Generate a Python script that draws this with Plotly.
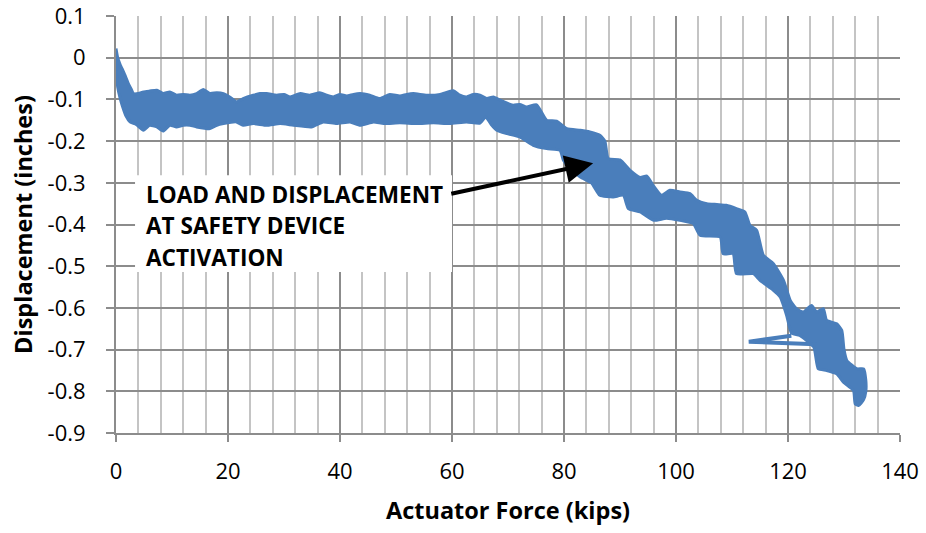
import plotly.graph_objects as go

# ---- data (kips, inches) ----
upper_x = [0, 0.3, 0.7, 1.2, 1.7, 2.2, 2.7, 3.1, 4.0, 4.9, 6.0, 7.3, 8.4, 9.6, 10.8, 12.0, 13.2, 14.4,
           15.6, 16.8, 18.0, 19.2, 20.3, 21.5, 22.7, 24.5, 25.7, 26.9, 28.7, 30.0, 31.1, 32.9, 34.6,
           36.4, 37.6, 38.8, 40.0, 41.2, 42.4, 43.6, 45.3, 47.1, 48.9, 50.7, 51.9, 53.1, 55.5, 57.9,
           60.2, 61.4, 62.6, 63.8, 65.0, 66.2, 67.4, 68.6, 70.9, 72.1, 73.3, 75.1, 76.9, 78.7, 80.5,
           82.9, 84.6, 86.4, 87.3, 87.9, 90.0, 91.8, 93.6, 94.8, 95.9, 97.4, 98.9, 100.7, 102.5,
           103.7, 105.5, 107.3, 109.0, 110.8, 112.3, 113.2, 114.4, 115.6, 117.4, 119.2, 120.4,
           121.5, 122.7, 124.2, 125.1, 126.3, 126.9, 128.7, 129.6, 130.0, 130.5, 132.3, 133.5, 133.9]
upper_y = [0.022, 0.0, -0.015, -0.03, -0.045, -0.062, -0.075, -0.086, -0.086, -0.082, -0.08, -0.078,
           -0.086, -0.082, -0.09, -0.088, -0.09, -0.086, -0.076, -0.086, -0.084, -0.086, -0.094, -0.106,
           -0.098, -0.09, -0.086, -0.086, -0.09, -0.088, -0.094, -0.086, -0.09, -0.084, -0.09, -0.094,
           -0.088, -0.092, -0.088, -0.086, -0.09, -0.098, -0.088, -0.092, -0.088, -0.086, -0.09, -0.088,
           -0.079, -0.09, -0.094, -0.088, -0.09, -0.098, -0.094, -0.102, -0.114, -0.112, -0.118, -0.113,
           -0.15, -0.152, -0.17, -0.174, -0.178, -0.186, -0.2, -0.242, -0.245, -0.27, -0.287, -0.284,
           -0.306, -0.33, -0.318, -0.322, -0.326, -0.342, -0.35, -0.352, -0.354, -0.362, -0.37, -0.402,
           -0.414, -0.474, -0.494, -0.534, -0.582, -0.602, -0.61, -0.594, -0.61, -0.602, -0.63, -0.638,
           -0.654, -0.70, -0.726, -0.746, -0.746, -0.774]

lower_x = [0, 0.3, 0.7, 1.2, 1.8, 2.5, 3.6, 4.9, 6.0, 7.3, 8.4, 9.6, 10.8, 12.0, 13.2, 14.4, 16.8,
           18.0, 19.2, 21.5, 22.7, 24.5, 26.9, 29.3, 31.7, 34.9, 37.0, 39.4, 41.8, 43.6, 46.0, 47.8,
           50.7, 53.7, 56.7, 59.6, 62.6, 65.0, 66.0, 67.0, 68.0, 69.8, 72.1, 74.5, 76.9, 79.3, 79.9,
           81.1, 82.9, 84.9, 86.4, 88.8, 90.6, 91.5, 93.6, 96.0, 98.3, 100.7, 103.1, 104.3, 107.9,
           108.4, 110.2, 110.8, 113.8, 115.0, 117.4, 118.6, 119.8, 120.6, 122.1, 124.6, 125.4, 126.9,
           128.7, 129.9, 131.7, 132.0, 132.6, 133.5, 133.9]
lower_y = [-0.03, -0.07, -0.095, -0.118, -0.14, -0.154, -0.16, -0.174, -0.162, -0.166, -0.176, -0.162,
           -0.166, -0.162, -0.162, -0.166, -0.17, -0.162, -0.158, -0.154, -0.162, -0.158, -0.162,
           -0.158, -0.162, -0.166, -0.154, -0.158, -0.154, -0.162, -0.154, -0.158, -0.156, -0.158,
           -0.156, -0.158, -0.154, -0.157, -0.142, -0.16, -0.174, -0.182, -0.19, -0.21, -0.218, -0.222,
           -0.246, -0.265, -0.286, -0.30, -0.33, -0.334, -0.33, -0.362, -0.37, -0.39, -0.385, -0.39,
           -0.398, -0.426, -0.43, -0.47, -0.47, -0.518, -0.518, -0.534, -0.558, -0.574, -0.62, -0.66,
           -0.666, -0.694, -0.746, -0.75, -0.758, -0.778, -0.798, -0.83, -0.834, -0.82, -0.80]

spike_x = [120.6, 113.0, 125.0]
spike_y = [-0.667, -0.681, -0.687]

x_ticks = [0, 20, 40, 60, 80, 100, 120, 140]
y_tick_vals = [0.1, 0, -0.1, -0.2, -0.3, -0.4, -0.5, -0.6, -0.7, -0.8, -0.9]
y_tick_text = ["0.1", "0", "-0.1", "-0.2", "-0.3", "-0.4", "-0.5", "-0.6", "-0.7", "-0.8", "-0.9"]

note_lines = ["LOAD AND DISPLACEMENT", "AT SAFETY DEVICE", "ACTIVATION"]
arrow_tip = (85.2, -0.253)
arrow_tail = (59.6, -0.327)

BLUE = "#4a7ebb"
FONT = "Open Sans"

fig = go.Figure()
fig.add_trace(go.Scatter(
    x=upper_x + lower_x[::-1], y=upper_y + lower_y[::-1],
    mode="lines", fill="toself", fillcolor=BLUE,
    line=dict(color=BLUE, width=3, shape="spline", smoothing=0.5),
    hoverinfo="skip", showlegend=False))
fig.add_trace(go.Scatter(
    x=spike_x, y=spike_y, mode="lines",
    line=dict(color=BLUE, width=4), hoverinfo="skip", showlegend=False))

fig.add_shape(type="rect", xref="x", yref="y", x0=3.4, x1=60.0, y0=-0.514, y1=-0.282,
              fillcolor="white", line=dict(width=0), layer="above")

ys = [-0.327, -0.403, -0.479]
for txt, yy in zip(note_lines, ys):
    fig.add_annotation(x=5.0, y=yy, xref="x", yref="y", text="<b>%s</b>" % txt,
                       showarrow=False, xanchor="left", yanchor="middle",
                       font=dict(family=FONT, size=22.6, color="black"))

fig.add_annotation(x=arrow_tip[0], y=arrow_tip[1], ax=arrow_tail[0], ay=arrow_tail[1],
                   xref="x", yref="y", axref="x", ayref="y", text="",
                   showarrow=True, arrowhead=2, arrowsize=1.4, arrowwidth=4, arrowcolor="black")

fig.update_layout(
    width=926, height=533,
    margin=dict(l=116, r=26, t=16, b=100, autoexpand=False),
    paper_bgcolor="white", plot_bgcolor="white",
    font=dict(family=FONT, size=22, color="black"),
    showlegend=False,
)
fig.update_xaxes(
    range=[0, 140], tickvals=x_ticks, showgrid=True, gridcolor="#8c8c8c", gridwidth=2,
    minor=dict(dtick=4, showgrid=True, gridcolor="#c4c4c4", gridwidth=2),
    showline=True, linecolor="#8c8c8c", linewidth=2, ticks="outside", ticklen=7,
    tickcolor="#8c8c8c", tickwidth=2, zeroline=False, ticklabelstandoff=11, automargin=False,
    ticklabeloverflow="allow",
    title=dict(text="<b>Actuator Force (kips)</b>", font=dict(size=23.5), standoff=18),
)
fig.update_yaxes(
    range=[-0.9, 0.1], tickvals=y_tick_vals, ticktext=y_tick_text, showgrid=True,
    gridcolor="#8c8c8c", gridwidth=2, showline=True, linecolor="#8c8c8c", linewidth=2,
    ticks="outside", ticklen=8, tickcolor="#8c8c8c", tickwidth=2, zeroline=False,
    ticklabelstandoff=16, automargin=False, ticklabeloverflow="allow",
    title=dict(text="<b>Displacement (inches)</b>", font=dict(size=23.5), standoff=8),
)
fig.write_html("out.html", config={"displayModeBar": False},
               post_script="document.body.style.margin='0';document.body.style.overflow='hidden';")
